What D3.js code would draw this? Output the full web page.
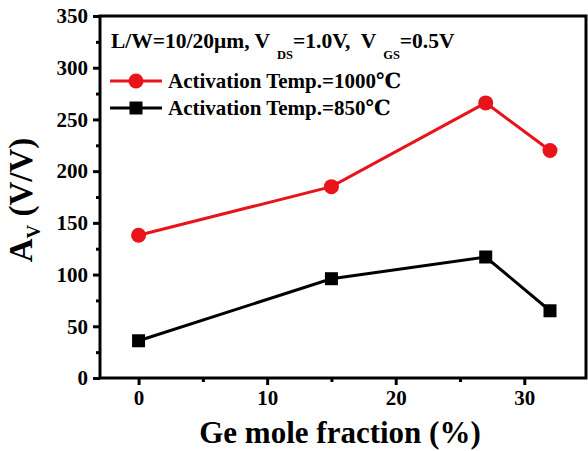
<!DOCTYPE html>
<html>
<head>
<meta charset="utf-8">
<script src="https://cdn.jsdelivr.net/npm/d3@7"></script>
<style>
  body { margin: 0; background: #fff; }
  svg text { white-space: pre; }
</style>
</head>
<body>
<svg width="588" height="451" font-family="'Liberation Serif', 'Times New Roman', 'DejaVu Serif', serif" font-weight="bold"></svg>
<script>
// Ge mole fraction (%)
var geFraction = [0, 15, 27, 32];
// voltage gain Av (V/V)
var av1000 = [138, 185, 266, 220];
var av850 = [36, 96, 117, 65];
var xTicks = [0, 10, 20, 30];
var yTicks = [0, 50, 100, 150, 200, 250, 300, 350];

var svg = d3.select("svg"),
    margin = {top: 16, right: 2, bottom: 73, left: 100},
    width = +svg.attr("width") - margin.left - margin.right,
    height = +svg.attr("height") - margin.top - margin.bottom,
    g = svg.append("g").attr("transform", "translate(" + margin.left + "," + margin.top + ")");

var x = d3.scaleLinear().domain([-3, 34.8]).range([0, width]);
var y = d3.scaleLinear().domain([0, 350]).range([height, 0]);

var red = "#e8141a";

function styleAxis(a) {
  a.attr("font-family", null).attr("font-size", null);
  a.select(".domain").remove();
  a.selectAll("line").attr("stroke-width", 3);
  a.selectAll("text").attr("font-size", 21).attr("fill", "#000");
}

// minor ticks
g.append("g")
    .attr("transform", "translate(0," + height + ")")
    .call(d3.axisBottom(x).tickValues([5, 15, 25]).tickSize(4).tickFormat(""))
    .call(styleAxis);
g.append("g")
    .call(d3.axisLeft(y).tickValues(d3.range(25, 350, 50)).tickSize(4).tickFormat(""))
    .call(styleAxis);

// major ticks
g.append("g")
    .attr("transform", "translate(0," + height + ")")
    .call(d3.axisBottom(x).tickValues(xTicks).tickSize(7).tickPadding(5))
    .call(styleAxis);
g.append("g")
    .call(d3.axisLeft(y).tickValues(yTicks).tickSize(7).tickPadding(5))
    .call(styleAxis);

// frame
g.append("rect")
    .attr("width", width).attr("height", height)
    .attr("fill", "none").attr("stroke", "#000").attr("stroke-width", 3);

var line = d3.line()
    .x(function(d) { return x(d[0]); })
    .y(function(d) { return y(d[1]); });

var s1 = d3.zip(geFraction, av1000), s2 = d3.zip(geFraction, av850);

g.append("path").datum(s2).attr("d", line)
    .attr("fill", "none").attr("stroke", "#000").attr("stroke-width", 3);
g.selectAll(".sq").data(s2).enter().append("rect")
    .attr("x", function(d) { return x(d[0]) - 6.5; })
    .attr("y", function(d) { return y(d[1]) - 6.5; })
    .attr("width", 13).attr("height", 13).attr("fill", "#000");

g.append("path").datum(s1).attr("d", line)
    .attr("fill", "none").attr("stroke", red).attr("stroke-width", 3);
g.selectAll(".dot").data(s1).enter().append("circle")
    .attr("cx", function(d) { return x(d[0]); })
    .attr("cy", function(d) { return y(d[1]); })
    .attr("r", 7.5).attr("fill", red);

// header text
var hdr = svg.append("text").attr("x", 111).attr("y", 48).attr("font-size", 21.5);
hdr.append("tspan").text("L/W=10/20\u03bcm, V");
hdr.append("tspan").attr("font-size", 12.5).attr("dx", 7).attr("dy", 11).text("DS");
hdr.append("tspan").attr("dy", -11).text("=1.0V,  V");
hdr.append("tspan").attr("font-size", 12.5).attr("dx", 7).attr("dy", 11).text("GS");
hdr.append("tspan").attr("dy", -11).text("=0.5V");

// legend
var legend = [
  {label: "Activation Temp.=1000\u2103", color: red, shape: "circle", y: 81},
  {label: "Activation Temp.=850\u2103", color: "#000", shape: "square", y: 108}
];
legend.forEach(function(l) {
  svg.append("line").attr("x1", 110).attr("x2", 162).attr("y1", l.y).attr("y2", l.y)
      .attr("stroke", l.color).attr("stroke-width", 3);
  if (l.shape == "circle")
    svg.append("circle").attr("cx", 136).attr("cy", l.y).attr("r", 7.5).attr("fill", l.color);
  else
    svg.append("rect").attr("x", 129.5).attr("y", l.y - 6.5).attr("width", 13).attr("height", 13).attr("fill", l.color);
  svg.append("text").attr("x", 168).attr("y", l.y + 7).attr("font-size", 21).text(l.label);
});

// axis titles
svg.append("text").attr("x", 340).attr("y", 443).attr("text-anchor", "middle")
    .attr("font-size", 31).text("Ge mole fraction (%)");
var yt = svg.append("text").attr("transform", "translate(32,200) rotate(-90)")
    .attr("text-anchor", "middle").attr("font-size", 33);
yt.append("tspan").text("A");
yt.append("tspan").attr("font-size", 19).attr("dy", 8).text("V");
yt.append("tspan").attr("dy", -8).text(" (V/V)");
</script>
</body>
</html>
